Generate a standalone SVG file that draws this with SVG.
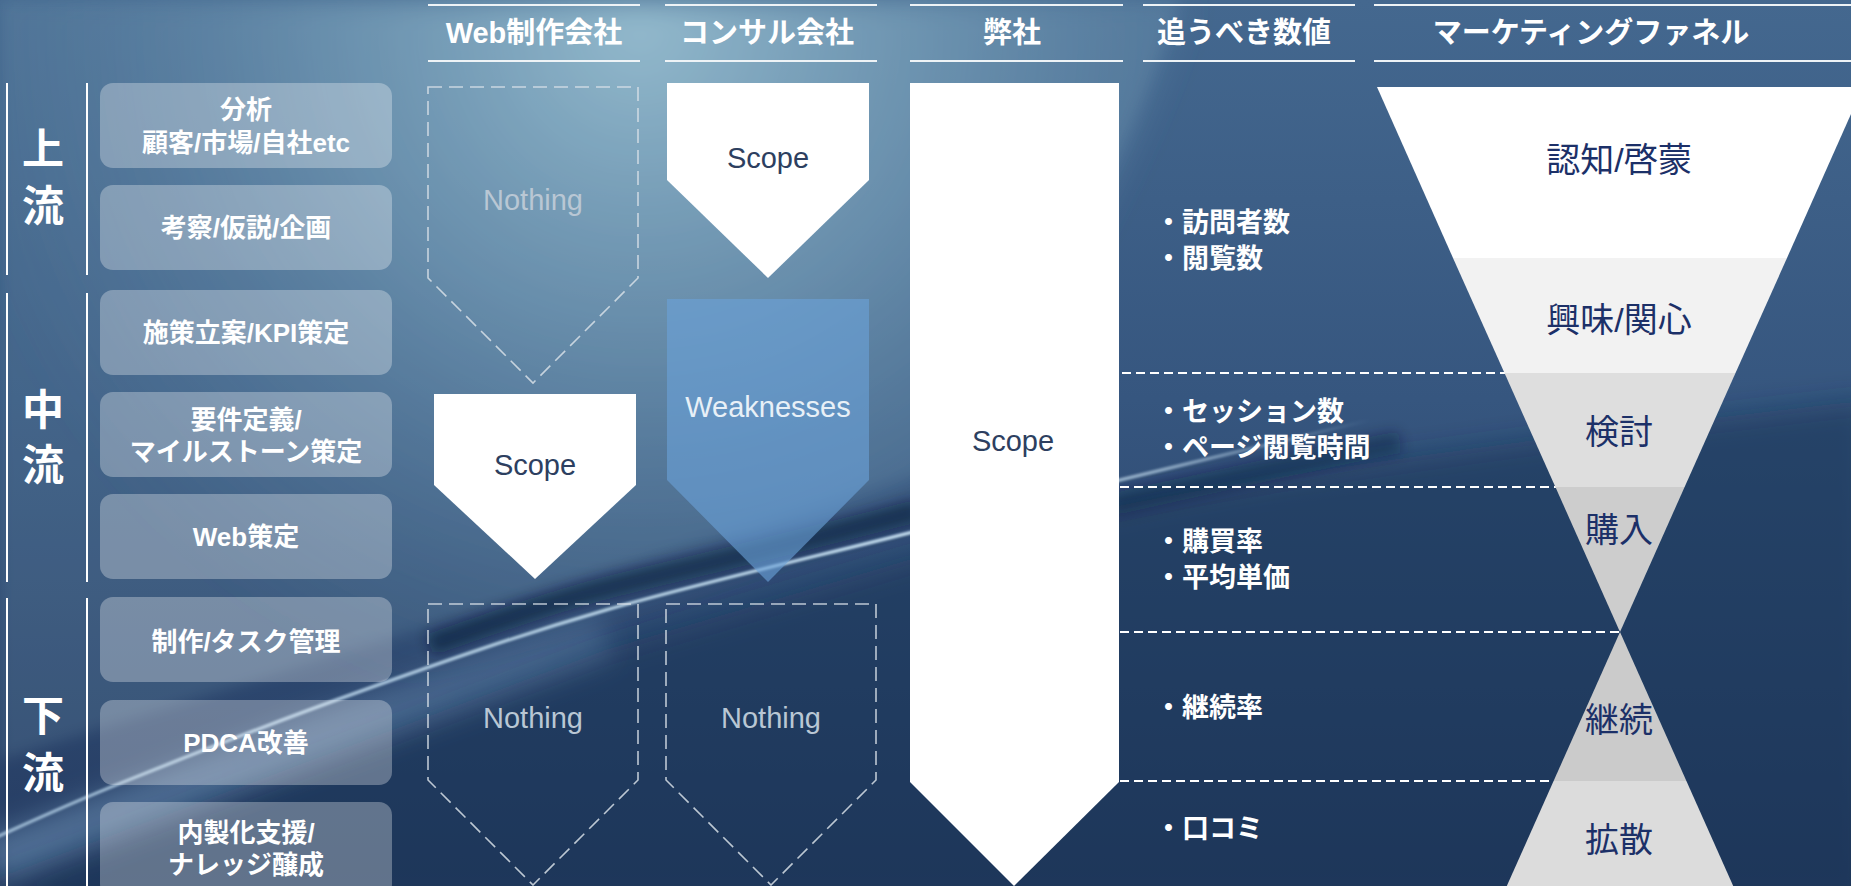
<svg xmlns="http://www.w3.org/2000/svg" width="1851" height="886" viewBox="0 0 1851 886">
<defs>
  <linearGradient id="bg" x1="0" y1="0" x2="0" y2="1">
    <stop offset="0" stop-color="#44688f"/>
    <stop offset="0.45" stop-color="#36567f"/>
    <stop offset="1" stop-color="#253b61"/>
  </linearGradient>
  <radialGradient id="sheen" cx="640" cy="30" r="700" gradientUnits="userSpaceOnUse">
    <stop offset="0" stop-color="#9ac1d3" stop-opacity="0.95"/>
    <stop offset="0.45" stop-color="#79a1bc" stop-opacity="0.6"/>
    <stop offset="1" stop-color="#4f769d" stop-opacity="0"/>
  </radialGradient>
  <linearGradient id="streakG" gradientUnits="userSpaceOnUse" x1="0" y1="0" x2="1370" y2="0">
    <stop offset="0" stop-color="#b9d6ec" stop-opacity="0.7"/>
    <stop offset="0.66" stop-color="#c4def0" stop-opacity="0.95"/>
    <stop offset="0.85" stop-color="#c4def0" stop-opacity="0.6"/>
    <stop offset="1" stop-color="#c4def0" stop-opacity="0"/>
  </linearGradient>
  <linearGradient id="bandG" gradientUnits="userSpaceOnUse" x1="0" y1="0" x2="900" y2="0">
    <stop offset="0" stop-color="#7aa2c8" stop-opacity="0.5"/>
    <stop offset="0.6" stop-color="#7aa2c8" stop-opacity="0.3"/>
    <stop offset="1" stop-color="#7aa2c8" stop-opacity="0"/>
  </linearGradient>
  <filter id="soft" filterUnits="userSpaceOnUse" x="-200" y="-200" width="2300" height="1300"><feGaussianBlur stdDeviation="14"/></filter>
  <filter id="soft2" filterUnits="userSpaceOnUse" x="-200" y="-200" width="2300" height="1300"><feGaussianBlur stdDeviation="7"/></filter>
  <filter id="soft3" filterUnits="userSpaceOnUse" x="-200" y="-200" width="2300" height="1300"><feGaussianBlur stdDeviation="1.3"/></filter>
  <style>
    .hdr{font-family:"Liberation Sans","Noto Sans CJK JP",sans-serif;font-weight:bold;font-size:29px;fill:#ffffff;text-anchor:middle}
    .hline{stroke:#eef3f6;stroke-width:2.2}
    .side{font-family:"Liberation Sans","Noto Sans CJK JP",sans-serif;font-weight:bold;font-size:42px;fill:#ffffff;text-anchor:middle}
    .vline{stroke:#ffffff;stroke-width:2}
    .box{fill:#ffffff;fill-opacity:0.3}
    .bt{font-family:"Liberation Sans","Noto Sans CJK JP",sans-serif;font-weight:bold;font-size:26px;fill:#ffffff;text-anchor:middle}
    .dash{fill:none;stroke:#d8e0e8;stroke-opacity:0.85;stroke-width:1.6;stroke-dasharray:14 7}
    .nothing{font-family:"Liberation Sans","Noto Sans CJK JP",sans-serif;font-size:29px;fill:#b9c7d4;text-anchor:middle}
    .scope{font-family:"Liberation Sans","Noto Sans CJK JP",sans-serif;font-size:29px;fill:#2d3f60;text-anchor:middle}
    .white{fill:#ffffff}
    .weak{fill:#6aa2d8;fill-opacity:0.62}
    .weakt{font-family:"Liberation Sans","Noto Sans CJK JP",sans-serif;font-size:29px;fill:#e8f0f7;text-anchor:middle}
    .item{font-family:"Noto Sans CJK JP",sans-serif;font-weight:bold;font-size:27px;fill:#ffffff}
    .sep{stroke:#ffffff;stroke-width:2;stroke-dasharray:9 5;fill:none}
    .fun{font-family:"Liberation Sans","Noto Sans CJK JP",sans-serif;font-size:34px;fill:#1c3068;text-anchor:middle}
  </style>
</defs>

<!-- background -->
<g id="background">
  <rect x="0" y="0" width="1851" height="886" fill="url(#bg)"/>
  <path d="M0,0 H1190 C1150,130 1060,320 920,500 L0,820 Z" fill="url(#sheen)" filter="url(#soft)"/>
  <path d="M0,0 H1180 C1140,120 1060,300 930,470 L0,760 Z" fill="#7ea6be" fill-opacity="0.18" filter="url(#soft2)"/>
  <path d="M-20,885 L606,650 L909,560 C1080,505 1300,465 1871,400 V906 H-20 Z" fill="#1c3054" fill-opacity="0.5" filter="url(#soft)"/>
  <path d="M-10,862 C150,800 380,712 606,636" fill="none" stroke="url(#bandG)" stroke-width="46" filter="url(#soft)"/>
  <path d="M430,645 C500,620 560,600 606,588 S760,552 920,510" fill="none" stroke="#0b1732" stroke-opacity="0.55" stroke-width="22" filter="url(#soft2)"/>
  <path d="M1110,505 C1180,490 1280,466 1400,442" fill="none" stroke="#0d1a38" stroke-opacity="0.4" stroke-width="22" filter="url(#soft2)"/>
  <path d="M-10,840 C11.8,830.5 58.7,808 121,783 C183.3,758 283.2,718.8 364,690 C444.8,661.2 515.2,636.2 606,610 C696.8,583.8 823.3,554.7 909,533 C994.7,511.3 1043.2,498.8 1120,480 C1196.8,461.2 1328.3,430 1370,420" fill="none" stroke="url(#streakG)" stroke-width="3.5" filter="url(#soft3)"/>
</g>

<!-- headers -->
<g id="headers">
  <line class="hline" x1="428" y1="5" x2="640" y2="5"/>
  <line class="hline" x1="428" y1="61" x2="640" y2="61"/>
  <text class="hdr" x="534" y="43">Web制作会社</text>
  <line class="hline" x1="665" y1="5" x2="877" y2="5"/>
  <line class="hline" x1="665" y1="61" x2="877" y2="61"/>
  <text class="hdr" x="767" y="43">コンサル会社</text>
  <line class="hline" x1="910" y1="5" x2="1123" y2="5"/>
  <line class="hline" x1="910" y1="61" x2="1123" y2="61"/>
  <text class="hdr" x="1012" y="43">弊社</text>
  <line class="hline" x1="1143" y1="5" x2="1355" y2="5"/>
  <line class="hline" x1="1143" y1="61" x2="1355" y2="61"/>
  <text class="hdr" x="1244" y="43">追うべき数値</text>
  <line class="hline" x1="1374" y1="5" x2="1851" y2="5"/>
  <line class="hline" x1="1374" y1="61" x2="1851" y2="61"/>
  <text class="hdr" x="1591" y="43">マーケティングファネル</text>
</g>

<!-- stream labels -->
<g id="upstream">
  <line class="vline" x1="7" y1="83" x2="7" y2="275"/>
  <line class="vline" x1="87" y1="83" x2="87" y2="275"/>
  <text class="side" x="43" y="164">上</text>
  <text class="side" x="43" y="221">流</text>
</g>
<g id="midstream">
  <line class="vline" x1="7" y1="293" x2="7" y2="582"/>
  <line class="vline" x1="87" y1="293" x2="87" y2="582"/>
  <text class="side" x="43" y="425">中</text>
  <text class="side" x="43" y="480">流</text>
</g>
<g id="downstream">
  <line class="vline" x1="7" y1="598" x2="7" y2="886"/>
  <line class="vline" x1="87" y1="598" x2="87" y2="886"/>
  <text class="side" x="43" y="731">下</text>
  <text class="side" x="43" y="788">流</text>
</g>

<!-- process boxes -->
<g id="box-analysis"><rect class="box" x="100" y="83" width="292" height="85" rx="13"/><text class="bt" x="246" y="119">分析</text><text class="bt" x="246" y="152">顧客/市場/自社etc</text></g>
<g id="box-insight"><rect class="box" x="100" y="185" width="292" height="85" rx="13"/><text class="bt" x="246" y="237">考察/仮説/企画</text></g>
<g id="box-kpi"><rect class="box" x="100" y="290" width="292" height="85" rx="13"/><text class="bt" x="246" y="342">施策立案/KPI策定</text></g>
<g id="box-req"><rect class="box" x="100" y="392" width="292" height="85" rx="13"/><text class="bt" x="246" y="429">要件定義/</text><text class="bt" x="246" y="461">マイルストーン策定</text></g>
<g id="box-web"><rect class="box" x="100" y="494" width="292" height="85" rx="13"/><text class="bt" x="246" y="546">Web策定</text></g>
<g id="box-task"><rect class="box" x="100" y="597" width="292" height="85" rx="13"/><text class="bt" x="246" y="651">制作/タスク管理</text></g>
<g id="box-pdca"><rect class="box" x="100" y="700" width="292" height="85" rx="13"/><text class="bt" x="246" y="752">PDCA改善</text></g>
<g id="box-inhouse"><rect class="box" x="100" y="802" width="292" height="95" rx="13"/><text class="bt" x="246" y="842">内製化支援/</text><text class="bt" x="246" y="874">ナレッジ醸成</text></g>

<!-- Web制作会社 column -->
<g id="web-nothing-top"><path class="dash" d="M428,87 H638 V278 L533,383 L428,278 Z"/><text class="nothing" x="533" y="210">Nothing</text></g>
<g id="web-scope"><path class="white" d="M434,394 H636 V485 L535,579 L434,485 Z"/><text class="scope" x="535" y="475">Scope</text></g>
<g id="web-nothing-bottom"><path class="dash" d="M428,604 H638 V780 L533,885 L428,780 Z"/><text class="nothing" x="533" y="728">Nothing</text></g>

<!-- コンサル会社 column -->
<g id="consul-scope"><path class="white" d="M667,83 H869 V180 L768,278 L667,180 Z"/><text class="scope" x="768" y="168">Scope</text></g>
<g id="consul-weak"><path class="weak" d="M667,299 H869 V480 L768,582 L667,480 Z"/><text class="weakt" x="768" y="417">Weaknesses</text></g>
<g id="consul-nothing"><path class="dash" d="M666,604 H876 V780 L771,885 L666,780 Z"/><text class="nothing" x="771" y="728">Nothing</text></g>

<!-- 弊社 column -->
<g id="our-scope"><path class="white" d="M910,83 H1119 V782 L1014,886 L910,782 Z"/><text class="scope" x="1013" y="451">Scope</text></g>

<!-- separators -->
<g id="connectors">
  <line class="sep" x1="1122" y1="373" x2="1505" y2="373"/>
  <line class="sep" x1="1120" y1="487" x2="1556" y2="487"/>
  <line class="sep" x1="1120" y1="632" x2="1620" y2="632"/>
  <line class="sep" x1="1120" y1="781" x2="1554" y2="781"/>
</g>

<!-- metrics -->
<g id="metrics-awareness"><text class="item" x="1155" y="232">・訪問者数</text><text class="item" x="1155" y="268">・閲覧数</text></g>
<g id="metrics-consider"><text class="item" x="1155" y="421">・セッション数</text><text class="item" x="1155" y="457">・ページ閲覧時間</text></g>
<g id="metrics-purchase"><text class="item" x="1155" y="551">・購買率</text><text class="item" x="1155" y="587">・平均単価</text></g>
<g id="metrics-retention"><text class="item" x="1155" y="717">・継続率</text></g>
<g id="metrics-viral"><text class="item" x="1155" y="838">・口コミ</text></g>

<!-- funnel -->
<g id="funnel-awareness"><polygon fill="#ffffff" points="1377,87 1863,87 1787,258 1453,258"/><text class="fun" x="1619" y="172">認知/啓蒙</text></g>
<g id="funnel-interest"><polygon fill="#f2f2f2" points="1453,258 1787,258 1735.5,373 1504.5,373"/><text class="fun" x="1619" y="332">興味/関心</text></g>
<g id="funnel-consider"><polygon fill="#dedede" points="1504.5,373 1735.5,373 1684.6,487 1555.4,487"/><text class="fun" x="1619" y="444">検討</text></g>
<g id="funnel-purchase"><polygon fill="#cdcdcd" points="1555.4,487 1684.6,487 1620,632"/><text class="fun" x="1619" y="542">購入</text></g>
<g id="funnel-retention"><polygon fill="#cbcbcb" points="1620,632 1686.4,781 1553.6,781"/><text class="fun" x="1619" y="732">継続</text></g>
<g id="funnel-viral"><polygon fill="#dcdcdc" points="1553.6,781 1686.4,781 1735,890 1505,890"/><text class="fun" x="1619" y="852">拡散</text></g>
</svg>
